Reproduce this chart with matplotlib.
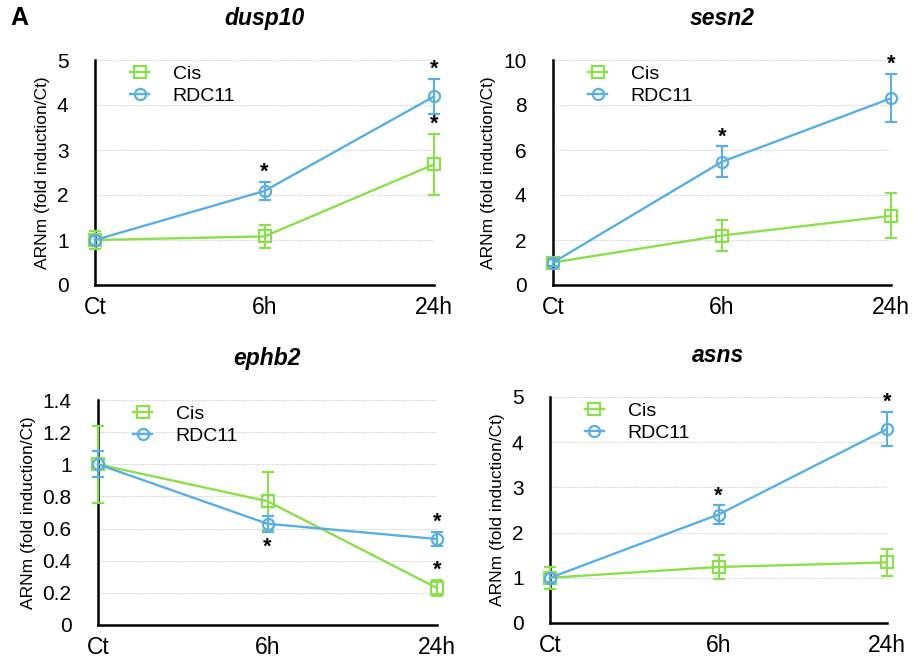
import matplotlib
matplotlib.use("Agg")
import matplotlib.pyplot as plt
from matplotlib.lines import Line2D
import numpy as np

plt.rcParams['font.family'] = ['Liberation Sans', 'DejaVu Sans']

timepoints = ["Ct", "6h", "24h"]
genes = ["dusp10", "sesn2", "ephb2", "asns"]

cis_mean = {"dusp10": [1.0, 1.08, 2.68], "sesn2": [1.0, 2.2, 3.07],
            "ephb2": [1.0, 0.77, 0.23], "asns": [1.0, 1.24, 1.34]}
cis_err = {"dusp10": [0.2, 0.25, 0.67], "sesn2": [0.15, 0.68, 1.0],
           "ephb2": [0.24, 0.18, 0.05], "asns": [0.24, 0.27, 0.3]}
rdc_mean = {"dusp10": [1.0, 2.09, 4.19], "sesn2": [1.0, 5.48, 8.3],
            "ephb2": [1.0, 0.63, 0.535], "asns": [1.0, 2.4, 4.29]}
rdc_err = {"dusp10": [0.1, 0.2, 0.38], "sesn2": [0.15, 0.68, 1.07],
           "ephb2": [0.08, 0.05, 0.045], "asns": [0.1, 0.2, 0.37]}

yticks = {"dusp10": [0, 1, 2, 3, 4, 5], "sesn2": [0, 2, 4, 6, 8, 10],
          "ephb2": [0, 0.2, 0.4, 0.6, 0.8, 1, 1.2, 1.4], "asns": [0, 1, 2, 3, 4, 5]}
ytick_labels = {"dusp10": ["0", "1", "2", "3", "4", "5"],
                "sesn2": ["0", "2", "4", "6", "8", "10"],
                "ephb2": ["0", "0.2", "0.4", "0.6", "0.8", "1", "1.2", "1.4"],
                "asns": ["0", "1", "2", "3", "4", "5"]}

# significance stars: (series, time index, placement)
stars = {"dusp10": [("rdc", 1, "above"), ("rdc", 2, "above"), ("cis", 2, "above")],
         "sesn2": [("rdc", 1, "above"), ("rdc", 2, "above")],
         "ephb2": [("rdc", 1, "below"), ("rdc", 2, "above"), ("cis", 2, "above")],
         "asns": [("rdc", 1, "above"), ("rdc", 2, "above")]}

green = "#8cde4e"
blue = "#5aafe0"

W, H = 913, 661
fig = plt.figure(figsize=(W / 100, H / 100), dpi=100)

# axes boxes in pixels: left, right, top, bottom
boxes = {"dusp10": (95, 434, 60, 285), "sesn2": (553, 891, 60, 285),
         "ephb2": (98, 437, 400, 625), "asns": (550, 887, 397, 623)}

for g in genes:
    l, r, t, b = boxes[g]
    ax = fig.add_axes([l / W, 1 - b / H, (r - l) / W, (b - t) / H])
    x = np.arange(len(timepoints))
    for ticks_v in yticks[g][1:]:
        ax.axhline(ticks_v, color="#cfcfcf", lw=0.8, ls=(0, (1, 1)), zorder=0)
    e1 = ax.errorbar(x, cis_mean[g], yerr=cis_err[g], color=green, lw=1.7,
                     marker="s", ms=8, mfc="none", mec=green, mew=1.6,
                     capsize=4, capthick=1.5, elinewidth=1.5, clip_on=False,
                     zorder=3)
    e2 = ax.errorbar(x, rdc_mean[g], yerr=rdc_err[g], color=blue, lw=1.7,
                     marker="o", ms=8, mfc="none", mec=blue, mew=1.6,
                     capsize=4, capthick=1.5, elinewidth=1.5, clip_on=False,
                     zorder=3)
    for c in e1[1] + e2[1]:
        c.set_clip_on(False)
    for c in e1[2] + e2[2]:
        c.set_clip_on(False)
    ax.set_xlim(0, 2)
    ax.set_ylim(yticks[g][0], yticks[g][-1])
    ax.set_yticks(yticks[g])
    ax.set_yticklabels(ytick_labels[g], fontsize=15)
    ax.set_xticks(x)
    ax.set_xticklabels(timepoints, fontsize=16.5)
    ax.tick_params(axis="y", length=0, pad=19)
    ax.tick_params(axis="x", length=0, pad=8)
    for s in ["top", "right"]:
        ax.spines[s].set_visible(False)
    for s in ["left", "bottom"]:
        ax.spines[s].set_linewidth(1.8)
        ax.spines[s].set_color("black")
    ax.set_ylabel("ARNm (fold induction/Ct)", fontsize=12.5, labelpad=5)
    ax.set_title(g, fontsize=16.5, fontweight="bold", fontstyle="italic", pad=25)
    handles = [Line2D([], [], color=green, lw=1.7, marker="s", ms=8, mfc="none", mew=1.6),
               Line2D([], [], color=blue, lw=1.7, marker="o", ms=8, mfc="none", mew=1.6)]
    ax.legend(handles, ["Cis", "RDC11"], loc="upper left", bbox_to_anchor=(0.08, 1.01),
              frameon=False, fontsize=14, handlelength=1.0, handletextpad=1.2,
              labelspacing=0.2, borderaxespad=0)
    for series, i, place in stars[g]:
        m = cis_mean[g] if series == "cis" else rdc_mean[g]
        e = cis_err[g] if series == "cis" else rdc_err[g]
        if place == "above":
            yv, off = m[i] + e[i], 3
        else:
            yv, off = m[i] - e[i], -15
        ax.annotate("*", (x[i], yv), xytext=(0, off), textcoords="offset points",
                    ha="center", va="baseline", fontsize=15.5, fontweight="bold",
                    annotation_clip=False)

fig.text(10 / W, 1 - 18 / H, "A", fontsize=18, fontweight="bold", va="center", ha="left")

fig.savefig("out.png", dpi=100)
